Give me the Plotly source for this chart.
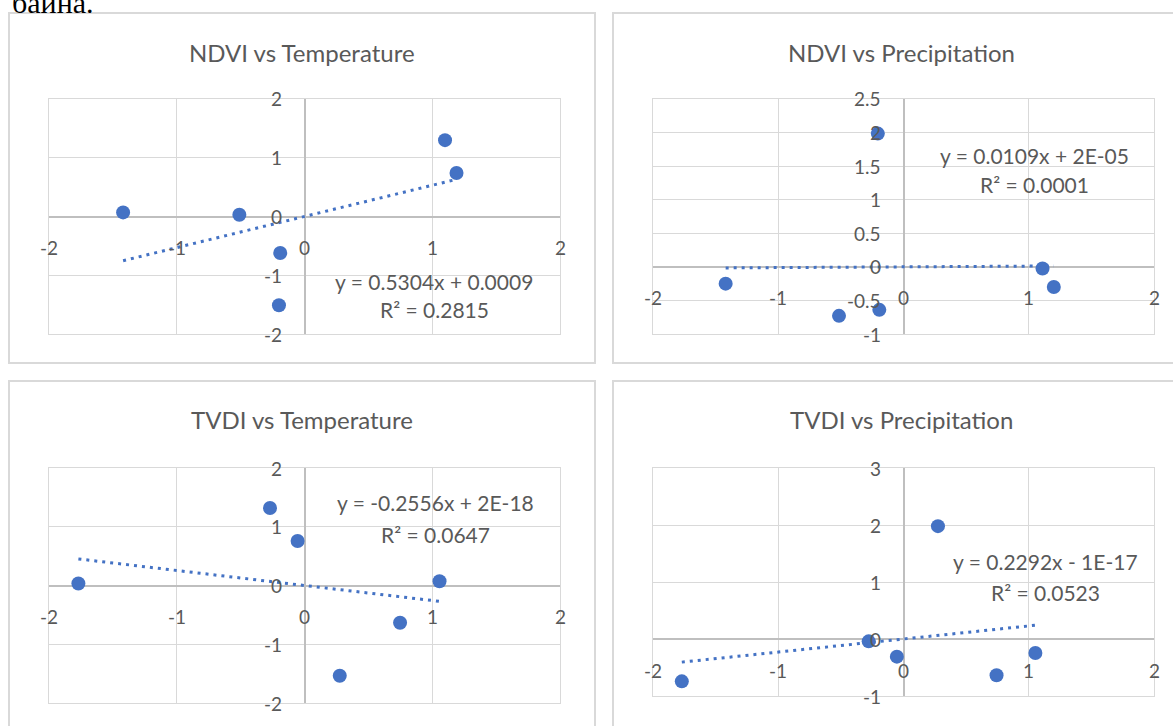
import plotly.graph_objects as go

W, H = 1173, 726

# ---------------- data (standardised values) ----------------
ndvi_temp_x = [-1.42, -0.51, -0.19, -0.20, 1.10, 1.19]
ndvi_temp_y = [0.07, 0.03, -0.62, -1.51, 1.30, 0.74]

ndvi_prec_x = [-1.42, -0.515, -0.193, -0.205, 1.11, 1.20]
ndvi_prec_y = [-0.25, -0.73, -0.64, 1.985, -0.025, -0.30]

tvdi_temp_x = [-1.77, -0.27, -0.054, 0.276, 0.748, 1.057]
tvdi_temp_y = [0.034, 1.32, 0.757, -1.537, -0.633, 0.073]

tvdi_prec_x = [-1.77, -0.278, -0.053, 0.275, 0.743, 1.053]
tvdi_prec_y = [-0.743, -0.041, -0.31, 1.98, -0.637, -0.246]

titles = ["NDVI vs Temperature", "NDVI vs Precipitation",
          "TVDI vs Temperature", "TVDI vs Precipitation"]
slopes = [0.5304, 0.0109, -0.2556, 0.2292]
intercepts = [0.0009, 2e-05, 2e-18, -1e-17]
equations = ["y = 0.5304x + 0.0009", "y = 0.0109x + 2E-05",
             "y = -0.2556x + 2E-18", "y = 0.2292x - 1E-17"]
r2_labels = ["R² = 0.2815", "R² = 0.0001", "R² = 0.0647", "R² = 0.0523"]

x_ticks = [-2, -1, 0, 1, 2]
y_ticks_list = [[-2, -1, 0, 1, 2],
                [-1, -0.5, 0, 0.5, 1, 1.5, 2, 2.5],
                [-2, -1, 0, 1, 2],
                [-1, 0, 1, 2, 3]]
y_dticks = [1, 0.5, 1, 1]

series_x = [ndvi_temp_x, ndvi_prec_x, tvdi_temp_x, tvdi_prec_x]
series_y = [ndvi_temp_y, ndvi_prec_y, tvdi_temp_y, tvdi_prec_y]

# ---------------- layout geometry (pixels) ----------------
panels = [
    dict(plot=(49, 560, 99, 334), box=(9, 595, 13, 363), title=(302, 52), eq=(434, 281), r2=(434, 309)),
    dict(plot=(653, 1154, 99, 334), box=(613, 1195, 13, 363), title=(901, 52), eq=(1034, 156), r2=(1034, 184)),
    dict(plot=(49, 560, 468, 703), box=(9, 595, 381, 745), title=(302, 419), eq=(435, 502), r2=(435, 534)),
    dict(plot=(653, 1154, 468, 696), box=(613, 1195, 381, 745), title=(901, 419), eq=(1045, 561), r2=(1045, 592)),
]

BLUE = "#4472C4"
TXT = "#595959"
GRID = "#d9d9d9"
AXIS = "#bfbfbf"
FONT = "Lato"


def px(x):
    return x / W


def py(y):
    return 1 - y / H


fig = go.Figure()
shapes = []
annotations = []

for i, p in enumerate(panels):
    n = "" if i == 0 else str(i + 1)
    xa, ya = "x" + n, "y" + n
    x0, x1, y0, y1 = p["plot"]
    yt = y_ticks_list[i]

    fig.add_trace(go.Scatter(
        x=series_x[i], y=series_y[i], mode="markers",
        marker=dict(color=BLUE, size=14, line=dict(width=0)),
        xaxis=xa, yaxis=ya, showlegend=False, hoverinfo="x+y"))

    tx = [min(series_x[i]), max(series_x[i])]
    ty = [slopes[i] * v + intercepts[i] for v in tx]
    fig.add_trace(go.Scatter(
        x=tx, y=ty, mode="lines",
        line=dict(color=BLUE, width=3, dash="3px,5px"),
        xaxis=xa, yaxis=ya, showlegend=False, hoverinfo="skip"))

    ax_common = dict(showticklabels=False, ticks="", showgrid=True, gridcolor=GRID, gridwidth=1.3,
                     zeroline=True, zerolinecolor=AXIS, zerolinewidth=1.5,
                     showline=True, linecolor=GRID, linewidth=1.3, mirror=True, fixedrange=True)
    fig.layout["xaxis" + n] = dict(ax_common, domain=[px(x0), px(x1)], range=[x_ticks[0], x_ticks[-1]],
                                   dtick=1, tick0=0, anchor=ya)
    fig.layout["yaxis" + n] = dict(ax_common, domain=[py(y1), py(y0)], range=[yt[0], yt[-1]],
                                   dtick=y_dticks[i], tick0=0, anchor=xa)

    # tick labels placed next to the axes crossing at zero (Excel style)
    for v in x_ticks:
        annotations.append(dict(x=v, y=0, xref=xa, yref=ya, text=f"{v:g}", showarrow=False,
                                xanchor="center", yanchor="middle", yshift=-31,
                                font=dict(family=FONT, size=19, color=TXT)))
    for v in yt:
        annotations.append(dict(x=0, y=v, xref=xa, yref=ya, text=f"{v:g}", showarrow=False,
                                xanchor="right", yanchor="middle", xshift=-21,
                                font=dict(family=FONT, size=19, color=TXT)))

    # chart frame
    bx0, bx1, by0, by1 = p["box"]
    shapes.append(dict(type="rect", xref="paper", yref="paper",
                       x0=px(bx0), x1=px(bx1), y0=py(by1), y1=py(by0),
                       line=dict(color=GRID, width=2), fillcolor="rgba(0,0,0,0)", layer="below"))

    # title
    annotations.append(dict(x=px(p["title"][0]), y=py(p["title"][1]), xref="paper", yref="paper",
                            text=titles[i], showarrow=False, xanchor="center", yanchor="middle",
                            font=dict(family=FONT, size=24, color=TXT)))
    # trendline equation
    annotations.append(dict(x=px(p["eq"][0]), y=py(p["eq"][1]), xref="paper", yref="paper",
                            text=equations[i], showarrow=False, xanchor="center", yanchor="middle",
                            font=dict(family=FONT, size=21, color=TXT)))
    annotations.append(dict(x=px(p["r2"][0]), y=py(p["r2"][1]), xref="paper", yref="paper",
                            text=r2_labels[i], showarrow=False, xanchor="center", yanchor="middle",
                            font=dict(family=FONT, size=21, color=TXT)))

# cropped body text above the charts (cut off at the top, as in the source)
annotations.append(dict(x=px(10), y=py(21), xref="paper", yref="paper", text="байна.",
                        showarrow=False, xanchor="left", yanchor="bottom",
                        font=dict(family="Liberation Serif", size=30, color="#000000")))

fig.update_layout(width=W, height=H, margin=dict(l=0, r=0, t=0, b=0),
                  paper_bgcolor="white", plot_bgcolor="white",
                  shapes=shapes, annotations=annotations, showlegend=False)

fig.write_html("out.html", config={"displayModeBar": False})
